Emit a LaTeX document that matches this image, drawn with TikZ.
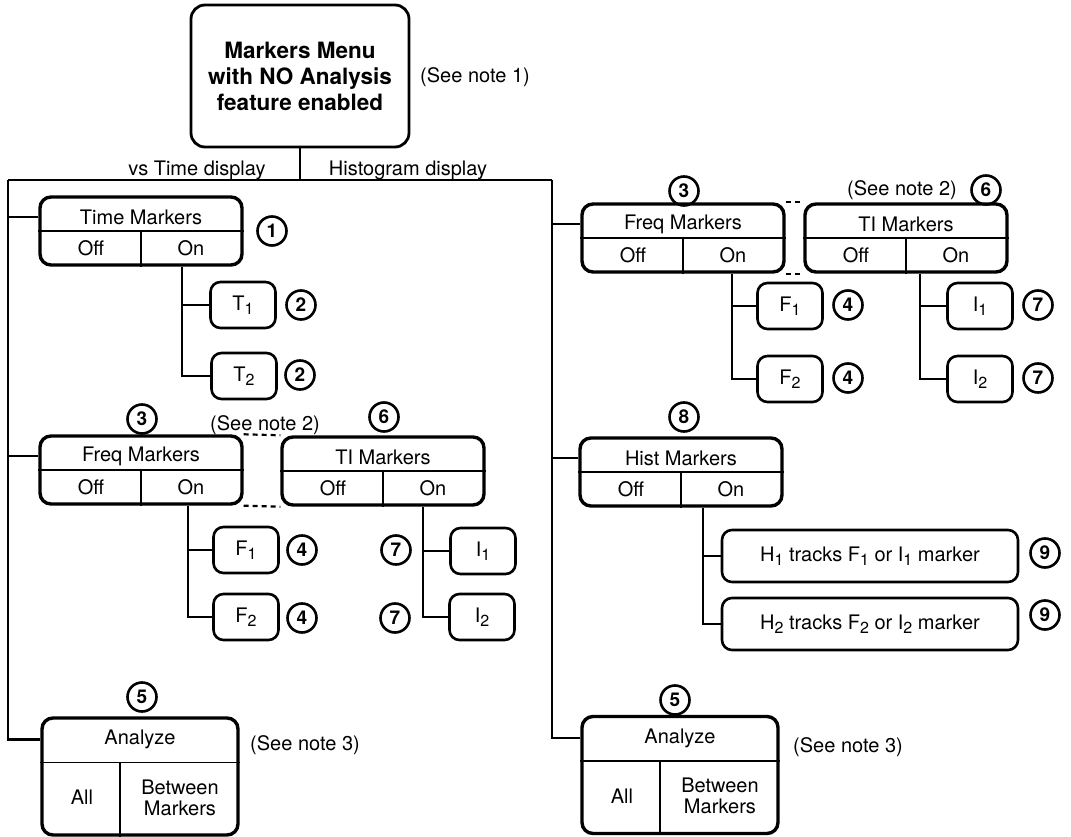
\documentclass[tikz,border=0pt]{standalone}
\usepackage{fontspec}
\setmainfont{TeX Gyre Heros}
\usetikzlibrary{calc,positioning}
\tikzset{every node/.style={font=\fontsize{20}{24}\selectfont}, % normal text size
menu/.style={draw, line width=3.4pt, rounded corners=11pt, minimum width=202pt, minimum height=68pt, inner sep=0pt}, % menu with Off/On keys
markkey/.style={draw, line width=2.6pt, rounded corners=10pt, minimum width=65pt, minimum height=46pt, inner sep=0pt}, % marker keys
anbox/.style={menu, minimum width=196pt, minimum height=117pt},
num/.style={circle, draw, line width=2.6pt, minimum size=29pt, inner sep=0pt, font=\fontsize{19}{19}\selectfont\bfseries}, % circled note numbers
wire/.style={line width=2.2pt},
divider/.style={line width=1.8pt},
dashline/.style={line width=2.2pt, dash pattern=on 5pt off 4pt},
}
\newcommand{\lowsub}[1]{\raisebox{-0.35ex}{\fontsize{16}{16}\selectfont#1}}
\newcommand{\menubox}[3]{%
\node[menu] (#1) at (#2) {};
\draw[divider] (#1.west) -- (#1.east) (#1.center) -- (#1.south);
\node (#1-title) at ($(#1.center)+(0,-14)$) {#3};
\node (#1-off) at ($(#1.center)+(-50,17)$) {Off};
\node (#1-on) at ($(#1.center)+(50,17)$) {On};
}
\newcommand{\analyzebox}[2]{%
\node[anbox] (#1) at (#2) {};
\draw[divider] ([yshift=14pt]#1.west) -- ([yshift=14pt]#1.east) ($(#1.center)+(-20,-14)$) -- ($(#1.south)+(-20,0)$);
\node (#1-title) at ($(#1.center)+(0,-37)$) {Analyze};
\node (#1-all) at ($(#1.center)+(-58,21)$) {All};
\node[align=center, font=\fontsize{20}{21}\selectfont] (#1-btw) at ($(#1.center)+(40,21)$) {Between\\Markers};
}
\begin{document}
\begin{tikzpicture}[x=1pt, y=-1pt]
\useasboundingbox (0,0) rectangle (1071,837);
% top menu
\node[draw, line width=2.8pt, rounded corners=14pt, minimum width=218pt, minimum height=142pt, align=center, font=\fontsize{22.5}{26}\selectfont\bfseries] (mainmenu) at (300,76) {Markers Menu\\with NO Analysis\\feature enabled};
\node (note1) at (475,77) {(See note 1)};
\coordinate (lft) at (8,180);
\coordinate (rgt) at (552,180);
\node (vstime) at (197,170) {vs Time display};
\node (histdisp) at (408,170) {Histogram display};
\draw[wire] (mainmenu.south) -- (mainmenu.south |- lft);
\draw[wire] (lft) -- (rgt);

% vs Time display branch
\menubox{tm}{141,231}{Time Markers}
\node[num] (n1) at (272,231) {1};
\node[markkey] (t1) at (243,305) {T\lowsub{1}};
\node[markkey] (t2) at (244,376) {T\lowsub{2}};
\node[num] (n2a) at (301,305) {2};
\node[num] (n2b) at (300,375) {2};
\menubox{fqa}{141,470}{Freq Markers}
\menubox{tia}{383,471}{TI Markers}
\node[num] (n3a) at (142,419) {3};
\node (note2a) at (265,425) {(See note 2)};
\node[num] (n6a) at (384,417) {6};
\node[markkey] (fa1) at (246,550) {F\lowsub{1}};
\node[markkey] (fa2) at (246,617) {F\lowsub{2}};
\node[num] (n4a) at (302,550) {4};
\node[num] (n4b) at (302,618) {4};
\node[markkey] (ia1) at (483,551) {I\lowsub{1}};
\node[markkey] (ia2) at (482,617) {I\lowsub{2}};
\node[num] (n7a) at (396,550) {7};
\node[num] (n7b) at (395,618) {7};
\analyzebox{ana}{140,776.5}
\node[num] (n5a) at (142,697) {5};
\node (note3a) at (305,745) {(See note 3)};

\draw[wire] (lft) |- (ana.west |- ana-title);
\draw[wire] (lft |- tm-title) -- (tm.west |- tm-title);
\draw[wire] (lft |- fqa-title) -- (fqa.west |- fqa-title);
\coordinate (tmOn) at ([xshift=41pt]tm.south);
\draw[wire] (tmOn) |- (t1.west) (tmOn) |- (t2.west);
\coordinate (fqaOn) at ([xshift=47pt]fqa.south);
\draw[wire] (fqaOn) |- (fa1.west) (fqaOn) |- (fa2.west);
\coordinate (tiaOn) at ([xshift=40pt]tia.south);
\draw[wire] (tiaOn) |- (ia1.west) (tiaOn) |- (ia2.west);
\draw[dashline] (fqa.north east) -- (tia.north west) (fqa.south east) -- (tia.south west);

% Histogram display branch
\menubox{fqb}{683,238}{Freq Markers}
\menubox{tib}{906,238}{TI Markers}
\node[num] (n3b) at (684,191) {3};
\node (note2b) at (902,190) {(See note 2)};
\node[num] (n6b) at (986,190) {6};
\node[markkey] (fb1) at (790,306) {F\lowsub{1}};
\node[markkey] (fb2) at (790,379) {F\lowsub{2}};
\node[num] (n4c) at (848,305) {4};
\node[num] (n4d) at (848,378) {4};
\node[markkey] (ib1) at (980,306) {I\lowsub{1}};
\node[markkey] (ib2) at (980,379) {I\lowsub{2}};
\node[num] (n7c) at (1038,305) {7};
\node[num] (n7d) at (1038,378) {7};
\menubox{hm}{681,472}{Hist Markers}
\node[num] (n8) at (684,417) {8};
\node[markkey, minimum width=296pt, minimum height=52pt] (h1) at (870,556) {H\lowsub{1} tracks F\lowsub{1} or I\lowsub{1} marker};
\node[markkey, minimum width=296pt, minimum height=52pt] (h2) at (870,624) {H\lowsub{2} tracks F\lowsub{2} or I\lowsub{2} marker};
\node[num] (n9a) at (1045,553) {9};
\node[num] (n9b) at (1045,615) {9};
\analyzebox{anb}{680,775}
\node[num] (n5b) at (675,700) {5};
\node (note3b) at (848,747) {(See note 3)};

\draw[wire] (rgt) |- (anb.west |- anb-title);
\draw[wire] (rgt |- fqb-title) -- (fqb.west |- fqb-title);
\draw[wire] (rgt |- hm-title) -- (hm.west |- hm-title);
\coordinate (fqbOn) at ([xshift=49pt]fqb.south);
\draw[wire] (fqbOn) |- (fb1.west) (fqbOn) |- (fb2.west);
\coordinate (tibOn) at ([xshift=14pt]tib.south);
\draw[wire] (tibOn) |- (ib1.west) (tibOn) |- (ib2.west);
\coordinate (hmOn) at ([xshift=22pt]hm.south);
\draw[wire] (hmOn) |- (h1.west) (hmOn) |- (h2.west);
\draw[dashline] (fqb.north east) -- (tib.north west) (fqb.south east) -- (tib.south west);
\end{tikzpicture}
\end{document}
